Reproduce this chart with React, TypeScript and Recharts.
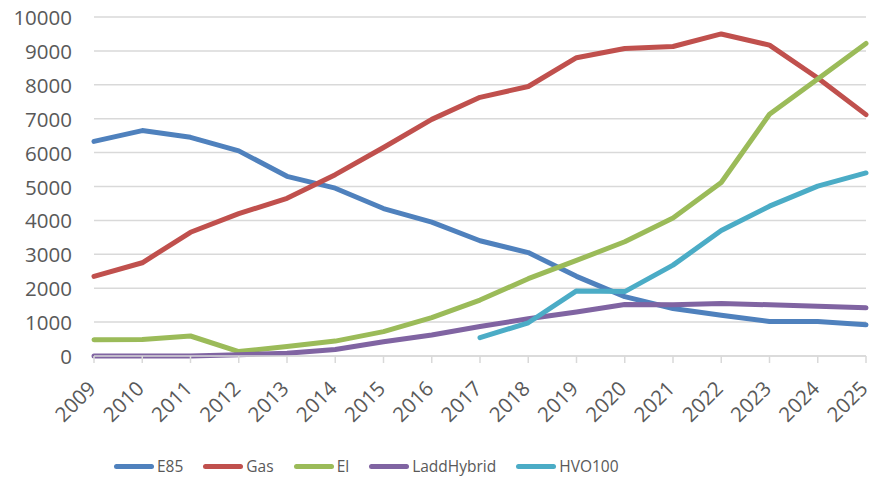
import React from "react";
import { LineChart, Line, XAxis, YAxis, CartesianGrid, Legend } from "recharts";

const years = ["2009","2010","2011","2012","2013","2014","2015","2016","2017","2018","2019","2020","2021","2022","2023","2024","2025"];
const e85 = [6330, 6650, 6450, 6050, 5300, 4950, 4350, 3950, 3400, 3050, 2350, 1750, 1400, 1200, 1020, 1020, 920];
const gas = [2350, 2750, 3650, 4200, 4650, 5350, 6150, 6980, 7630, 7950, 8800, 9070, 9130, 9500, 9170, 8200, 7120];
const el = [480, 490, 590, 130, 280, 440, 720, 1130, 1650, 2280, 2820, 3370, 4070, 5120, 7130, 8170, 9220];
const laddHybrid = [0, 0, 0, 40, 80, 190, 420, 620, 870, 1100, 1300, 1520, 1510, 1550, 1510, 1470, 1420];
const hvo100: (number | null)[] = [null, null, null, null, null, null, null, null, 540, 980, 1920, 1900, 2680, 3700, 4420, 5010, 5400];
const yTicks = [0, 1000, 2000, 3000, 4000, 5000, 6000, 7000, 8000, 9000, 10000];

const series = [
  { key: "E85", values: e85, color: "#4F81BD" },
  { key: "Gas", values: gas, color: "#C0504D" },
  { key: "El", values: el, color: "#9BBB59" },
  { key: "LaddHybrid", values: laddHybrid, color: "#8064A2" },
  { key: "HVO100", values: hvo100, color: "#4BACC6" },
];

const data = years.map((y, i) => {
  const row: Record<string, any> = { year: y };
  series.forEach((s) => { row[s.key] = s.values[i]; });
  return row;
});

const FONT = "'Open Sans', sans-serif";
const TXT = "#595959";
const AXIS_FS = 20.5;

const XTick = (props: any) => {
  const { x, y, payload } = props;
  return (
    <g transform={`translate(${x + 3},${y + 25})`}>
      <text transform="rotate(-45)" textAnchor="end" fontFamily={FONT} fontSize={AXIS_FS} fill={TXT}>
        {payload.value}
      </text>
    </g>
  );
};

const YTick = (props: any) => {
  const { x, y, payload } = props;
  return (
    <text x={x} y={y} textAnchor="end" dominantBaseline="central" fontFamily={FONT} fontSize={AXIS_FS} fill={TXT}>
      {payload.value}
    </text>
  );
};

const LegendContent = () => (
  <div style={{ display: "flex", alignItems: "center", fontFamily: FONT, fontSize: 15.5, color: TXT }}>
    {series.map((s) => (
      <div key={s.key} style={{ display: "flex", alignItems: "center", marginRight: 20 }}>
        <div style={{ width: 40, height: 5, borderRadius: 3, background: s.color, marginRight: 3 }} />
        <span>{s.key}</span>
      </div>
    ))}
  </div>
);

export default function App() {
  return (
    <div style={{ position: "absolute", left: 0, top: 0, background: "#fff" }}>
      <LineChart width={874} height={479} data={data} margin={{ top: 17, right: 8, left: 0, bottom: 21 }}>
        <CartesianGrid vertical={false} stroke="#D9D9D9" strokeWidth={1.5} />
        <XAxis
          dataKey="year"
          interval={0}
          height={80}
          stroke="#D9D9D9"
          tickSize={7}
          tick={<XTick />}
          axisLine={{ stroke: "#D9D9D9", strokeWidth: 1.5 }}
          tickLine={{ stroke: "#D9D9D9", strokeWidth: 1.5 }}
        />
        <YAxis
          width={94}
          domain={[0, 10000]}
          ticks={yTicks}
          axisLine={false}
          tickLine={false}
          tickMargin={16}
          tick={<YTick />}
        />
        <Legend
          content={<LegendContent />}
          wrapperStyle={{ left: 114, top: 455, width: 600, bottom: "auto" }}
        />
        {series.map((s) => (
          <Line
            key={s.key}
            dataKey={s.key}
            stroke={s.color}
            strokeWidth={5}
            dot={false}
            activeDot={false}
            isAnimationActive={false}
            strokeLinejoin="round"
            strokeLinecap="round"
          />
        ))}
      </LineChart>
    </div>
  );
}
